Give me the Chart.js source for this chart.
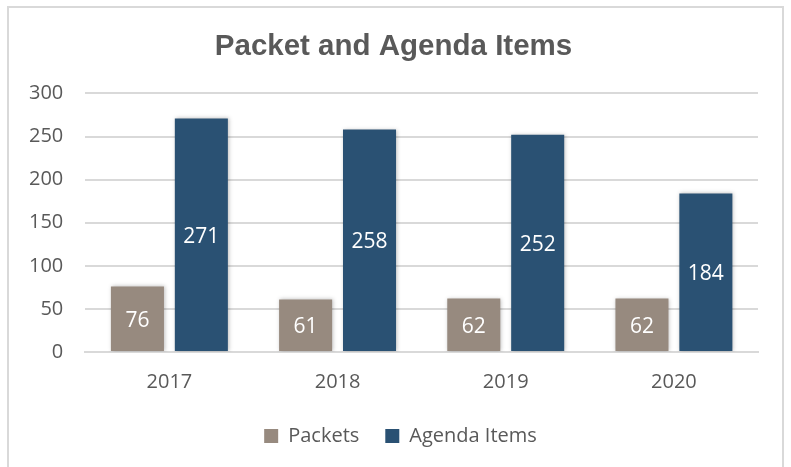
<!DOCTYPE html>
<html>
<head>
<meta charset="utf-8">
<script src="https://cdn.jsdelivr.net/npm/chart.js@4/dist/chart.umd.min.js"></script>
<style>
  html, body { margin: 0; padding: 0; background: #ffffff; }
  #wrap { position: relative; width: 791px; height: 467px; overflow: hidden; }
  #frame { position: absolute; left: 7px; top: 6px; width: 777px; height: 480px; border: 2px solid #d9d9d9; box-sizing: border-box; pointer-events: none; }
  canvas { position: absolute; left: 0; top: 0; }
</style>
</head>
<body>
<div id="wrap">
  <canvas id="c" width="791" height="467"></canvas>
  <div id="frame"></div>
</div>
<script>
const categories = ["2017", "2018", "2019", "2020"];
const packets = [76, 61, 62, 62];
const agendaItems = [271, 258, 252, 184];
const yTicks = [0, 50, 100, 150, 200, 250, 300];

const textColor = "#595959";
const fontFamily = "'Open Sans', 'Liberation Sans', sans-serif";

const barLabels = {
  id: "barLabels",
  afterDatasetsDraw(chart) {
    const ctx = chart.ctx;
    ctx.save();
    ctx.fillStyle = "#ffffff";
    ctx.font = "21px " + fontFamily;
    ctx.textAlign = "center";
    ctx.textBaseline = "middle";
    chart.data.datasets.forEach((ds, di) => {
      const meta = chart.getDatasetMeta(di);
      meta.data.forEach((bar, i) => {
        const p = bar.getProps(["x", "y", "base"], true);
        ctx.fillText(String(ds.data[i]), p.x, (p.y + p.base) / 2 + 2);
      });
    });
    ctx.restore();
  }
};

const barShadow = {
  id: "barShadow",
  beforeDatasetsDraw(chart) {
    const ctx = chart.ctx;
    ctx.save();
    ctx.shadowColor = "rgba(0,0,0,0.25)";
    ctx.shadowBlur = 4;
    ctx.shadowOffsetX = 1;
    ctx.shadowOffsetY = 0;
  },
  afterDatasetsDraw(chart) {
    chart.ctx.restore();
  }
};

// nudge the title and legend horizontally to match the reference centring
const boxNudge = {
  id: "boxNudge",
  afterLayout(chart) {
    if (chart.titleBlock) { chart.titleBlock.left += 11; chart.titleBlock.right += 11; }
    if (chart.legend) { chart.legend.left += 18; chart.legend.right += 18; }
  }
};

new Chart(document.getElementById("c"), {
  type: "bar",
  data: {
    labels: categories,
    datasets: [
      { label: "Packets", data: packets, backgroundColor: "#978a7f", categoryPercentage: 0.76, barPercentage: 0.83 },
      { label: "Agenda Items", data: agendaItems, backgroundColor: "#2a5173", categoryPercentage: 0.76, barPercentage: 0.83 }
    ]
  },
  options: {
    responsive: false,
    animation: false,
    devicePixelRatio: 1,
    layout: { padding: { left: 7, right: 33, top: 18, bottom: 11 } },
    plugins: {
      title: {
        display: true,
        text: "Packet and Agenda Items",
        color: textColor,
        font: { family: "'Liberation Sans', Arial, sans-serif", size: 29.5, weight: "bold" },
        padding: { top: 11, bottom: 29 }
      },
      legend: {
        position: "bottom",
        labels: {
          color: textColor,
          font: { family: fontFamily, size: 20 },
          boxWidth: 14,
          boxHeight: 14,
          padding: 26,
          useBorderRadius: false
        }
      },
      tooltip: { enabled: false }
    },
    scales: {
      x: {
        grid: { display: false, drawTicks: false },
        border: { display: true, color: "#d9d9d9", width: 2 },
        ticks: { color: textColor, font: { family: fontFamily, size: 20 }, padding: 18 },
        afterFit(axis) { axis.height = axis.height - 12; }
      },
      y: {
        min: 0,
        max: 300,
        afterBuildTicks(axis) { axis.ticks = yTicks.map(v => ({ value: v })); },
        grid: { color: "#d9d9d9", lineWidth: 2, drawTicks: false },
        border: { display: false },
        ticks: { color: textColor, font: { family: fontFamily, size: 20 }, padding: 22 }
      }
    }
  },
  plugins: [barShadow, barLabels, boxNudge]
});
</script>
</body>
</html>
